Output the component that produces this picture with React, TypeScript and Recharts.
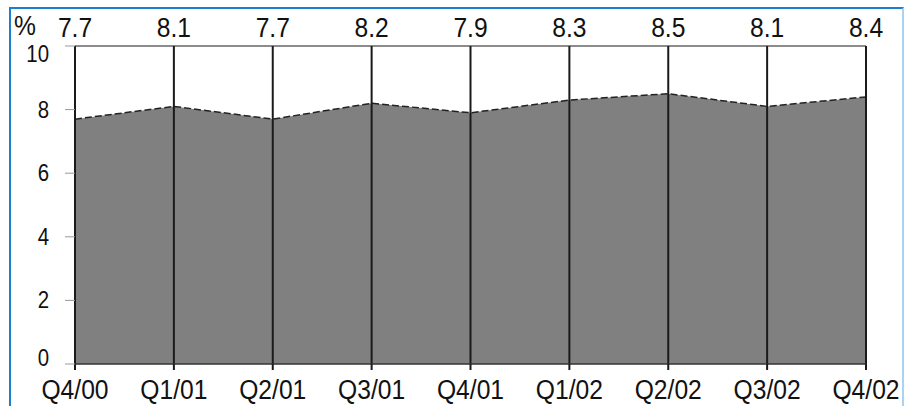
import { AreaChart, Area, XAxis, YAxis, ReferenceLine } from "recharts";

const quarters = ["Q4/00", "Q1/01", "Q2/01", "Q3/01", "Q4/01", "Q1/02", "Q2/02", "Q3/02", "Q4/02"];
const rates = [7.7, 8.1, 7.7, 8.2, 7.9, 8.3, 8.5, 8.1, 8.4];
const yTicks = [0, 2, 4, 6, 8, 10];

const data = quarters.map((q, i) => ({ q, v: rates[i] }));

const FONT = "'Liberation Sans', Arial, sans-serif";

function BottomTick(props: any) {
  const { x, payload } = props;
  return (
    <g transform={`translate(${x},399) scale(0.88,1)`}>
      <text textAnchor="middle" fontFamily={FONT} fontSize={28} fill="#111">
        {payload.value}
      </text>
    </g>
  );
}

function TopTick(props: any) {
  const { x, index } = props;
  return (
    <g transform={`translate(${x},37) scale(0.88,1)`}>
      <text textAnchor="middle" fontFamily={FONT} fontSize={28} fill="#111">
        {rates[index].toFixed(1)}
      </text>
    </g>
  );
}

function LeftTick(props: any) {
  const { x, y, payload } = props;
  // end labels are nudged inside the frame, like the original
  const shift = payload.value === 10 ? 8 : payload.value === 0 ? -6 : 0;
  return (
    <g transform={`translate(${x - 14},${y + shift + 8}) scale(0.85,1)`}>
      <text textAnchor="end" fontFamily={FONT} fontSize={24} fill="#111">
        {payload.value}
      </text>
    </g>
  );
}

export default function App() {
  return (
    <div style={{ position: "absolute", left: 0, top: 0, width: 905, height: 406, background: "#fff", overflow: "hidden" }}>
      <div
        style={{
          position: "absolute",
          left: 9,
          top: 7,
          width: 891,
          height: 420,
          borderTop: "2px solid #1f7fcf",
          borderLeft: "2px solid #1f7fcf",
          borderRight: "2px solid #a8d4f2",
        }}
      />
      <div
        style={{
          position: "absolute",
          left: 14,
          top: 10,
          fontFamily: FONT,
          fontSize: 28,
          color: "#111",
          transform: "scaleX(0.88)",
          transformOrigin: "left top",
        }}
      >
        %
      </div>
      <div style={{ position: "absolute", left: 0, top: 0 }}>
        <AreaChart width={905} height={406} data={data} margin={{ top: 16, right: 39, bottom: 12, left: 15 }}>
          <XAxis
            dataKey="q"
            height={30}
            tick={<BottomTick />}
            tickSize={6}
            tickLine={{ stroke: "#1a1a1a", strokeWidth: 2 }}
            axisLine={{ stroke: "#333", strokeWidth: 1.5 }}
            interval={0}
          />
          <XAxis
            xAxisId="top"
            orientation="top"
            dataKey="q"
            height={30}
            tick={<TopTick />}
            tickLine={false}
            axisLine={false}
            interval={0}
          />
          <YAxis
            width={60}
            domain={[0, 10]}
            ticks={yTicks}
            tick={<LeftTick />}
            tickSize={10}
            tickLine={{ stroke: "#999" }}
            axisLine={false}
            interval={0}
          />
          <Area
            type="linear"
            dataKey="v"
            fill="#808080"
            fillOpacity={1}
            stroke="#222"
            strokeWidth={1.5}
            strokeDasharray="7 3"
            isAnimationActive={false}
          />
          <ReferenceLine y={10} stroke="#666" strokeWidth={1.5} />
          {quarters.map((q) => (
            <ReferenceLine key={q} x={q} stroke="#1a1a1a" strokeWidth={2} />
          ))}
        </AreaChart>
      </div>
    </div>
  );
}
